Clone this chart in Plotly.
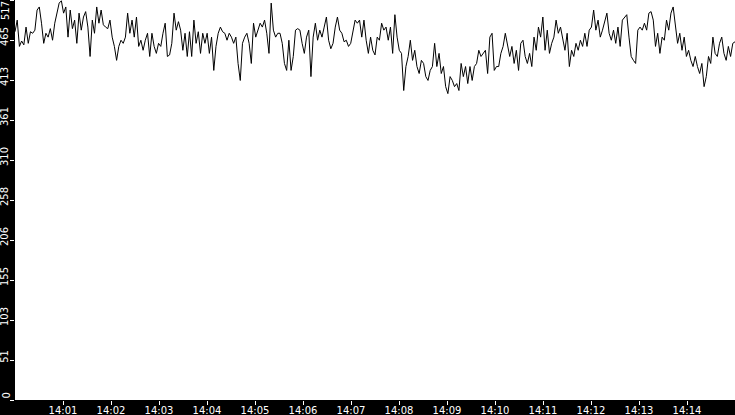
import math

import pandas as pd
import plotly.graph_objects as go

# Readings over a 15 minute window (one list per stretch of the trace)
part_1 = [476, 491, 457, 464, 459, 482, 461, 476, 474, 478, 504, 508, 487, 461, 474, 469, 480, 465, 487, 502,
          513, 516, 500, 508, 469, 504, 480, 491, 461, 500, 478, 495, 502, 482, 444, 491, 474, 508, 487]
part_2 = [504, 485, 482, 480, 491, 469, 457, 439, 457, 465, 461, 469, 500, 474, 491, 469, 495, 457, 465, 452,
          465, 474, 444, 474, 457, 448, 461, 457, 474, 487, 444, 446, 461, 500, 478, 489, 478, 452, 474, 444, 476]
part_3 = [444, 491, 461, 476, 448, 474, 461, 474, 448, 469, 426, 457, 474, 482, 476, 474, 465, 474, 469, 461,
          469, 435, 413, 461, 469, 474, 461, 435, 487, 469, 478, 487, 482, 491, 474, 448, 513, 478, 469, 474]
part_4 = [474, 461, 435, 426, 465, 426, 444, 478, 480, 478, 461, 448, 469, 478, 418, 469, 487, 465, 478, 469,
          482, 495, 465, 454, 461, 482, 495, 478, 474, 463, 465, 457, 461, 474, 491, 487, 491, 469]
part_5 = [491, 465, 448, 469, 452, 446, 469, 465, 487, 478, 482, 465, 482, 448, 498, 469, 452, 448, 400, 431,
          444, 465, 439, 452, 431, 422, 439, 435, 418, 413, 426, 431, 461, 431, 448, 422, 431, 405, 396, 418,
          413, 405]
part_6 = [409, 400, 435, 418, 431, 409, 431, 413, 431, 435, 452, 444, 448, 452, 422, 469, 474, 426, 431, 431,
          448, 457, 474, 461, 444, 457, 435, 452, 426, 461, 465, 444, 435, 448, 431, 469, 452, 482, 469, 495, 452]
part_7 = [478, 448, 461, 469, 491, 474, 482, 469, 452, 474, 431, 452, 444, 461, 452, 465, 457, 474, 457, 478,
          482, 504, 478, 491, 469, 478, 491, 500, 474, 465, 478, 461, 482, 457, 491, 495, 498, 469, 444, 439,
          435, 478]
part_8 = [482, 478, 487, 478, 500, 502, 491, 457, 474, 448, 469, 465, 491, 478, 500, 508, 482, 461, 474, 452,
          469, 444, 452, 439, 431, 444, 431, 422, 435, 405, 418, 444, 435, 469, 448, 444, 461, 469, 448, 439,
          457, 444, 461, 463]

values = part_1 + part_2 + part_3 + part_4 + part_5 + part_6 + part_7 + part_8
t_start = "2024-01-01 14:00:00"
t_end = "2024-01-01 14:15:00"
y_max = 517

times = pd.date_range(t_start, t_end, periods=len(values))
x_ticks = pd.date_range("2024-01-01 14:01:00", "2024-01-01 14:14:00", freq="min")

# 11 evenly spaced ticks, labels truncated to whole numbers
y_ticks = [y_max * i / 10 for i in range(11)]
y_labels = [str(math.floor(v + 1e-9)) for v in y_ticks]

fig = go.Figure()

fig.add_trace(go.Scatter(
    x=times,
    y=values,
    mode='lines',
    line=dict(color='black', width=1),
    hoverinfo='skip',
))

font = dict(family='DejaVu Sans', size=10, color='white')

# the end labels would be clipped by the page edge, so they are drawn as annotations
axis_text = ['' if i in (0, len(y_labels) - 1) else t for i, t in enumerate(y_labels)]
for i, anchor in ((0, 'bottom'), (len(y_labels) - 1, 'top')):
    fig.add_annotation(
        x=0, xref='paper', xanchor='right', xshift=-3,
        y=y_ticks[i], yref='y', yanchor=anchor,
        text=y_labels[i], textangle=-90, showarrow=False,
        font=font, borderpad=0,
    )

fig.update_layout(
    width=735,
    height=415,
    paper_bgcolor='black',
    plot_bgcolor='white',
    margin={"l": 15, "r": 0, "t": 0, "b": 15},
    showlegend=False,
    xaxis=dict(
        range=[t_start, t_end],
        tickvals=x_ticks,
        tickformat='%H:%M',
        ticks='outside',
        ticklen=4,
        tickcolor='white',
        tickfont=font,
        ticklabelstandoff=-3,
        showgrid=False,
        zeroline=False,
        showline=False,
        automargin=False,
    ),
    yaxis=dict(
        range=[0, y_max],
        tickvals=y_ticks,
        ticktext=axis_text,
        tickangle=-90,
        ticks='outside',
        ticklen=4,
        tickcolor='white',
        tickfont=font,
        ticklabelstandoff=-2,
        ticklabelshift=-2,
        showgrid=False,
        zeroline=False,
        showline=False,
        automargin=False,
    ),
)

# drop the default page margin so the figure fills the window
fig.write_html("out.html", config={'displayModeBar': False},
               post_script="document.body.style.margin = '0';")
